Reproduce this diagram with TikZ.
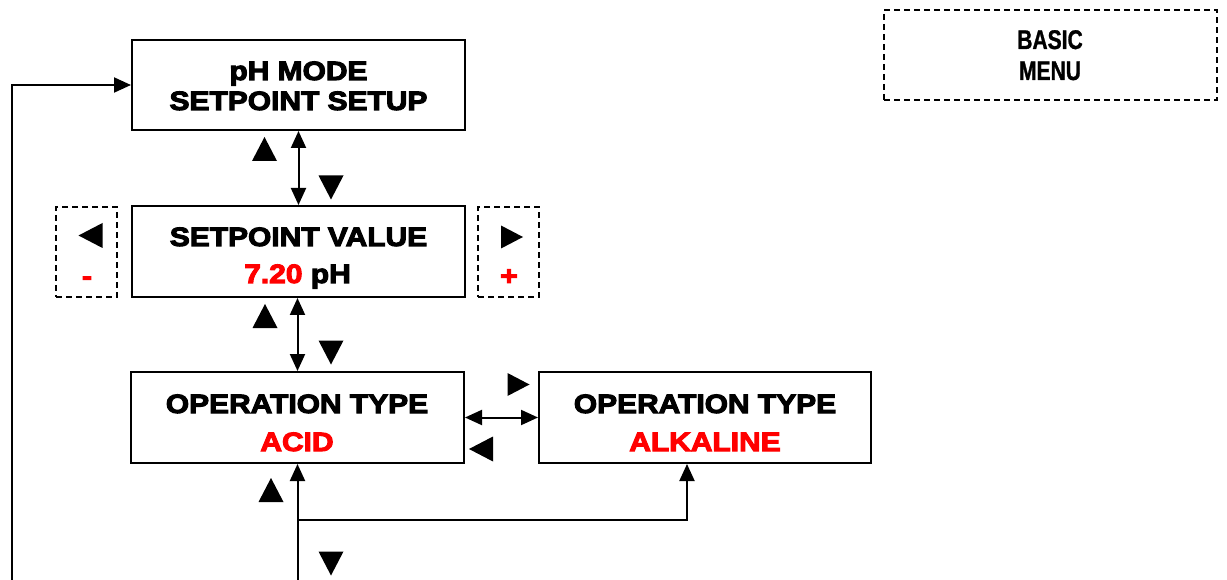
\documentclass[tikz,border=0pt]{standalone}
\usepackage{fontspec}
\newfontfamily\blk{Liberation Sans}[FakeStretch=1.13,BoldFeatures={FakeBold=4}]
\newfontfamily\nar{Liberation Sans}[FakeStretch=0.78,BoldFeatures={FakeBold=1}]
\usetikzlibrary{arrows.meta}
\definecolor{redtxt}{RGB}{255,0,0}
\tikzset{
  tup/.pic={\fill (-12.5,12) -- (12.5,12) -- (0,-12) -- cycle;},
  tdown/.pic={\fill (-12.5,-12) -- (12.5,-12) -- (0,12) -- cycle;},
  tleft/.pic={\fill (12,-12.5) -- (12,12.5) -- (-12,0) -- cycle;},
  tright/.pic={\fill (-11,-11.5) -- (-11,11.5) -- (11,0) -- cycle;},
}
\begin{document}
\begin{tikzpicture}[x=1pt,y=-1pt,
  box/.style={draw,line width=2pt,inner sep=0pt},
  dbox/.style={draw,line width=1.4pt,dash pattern=on 6pt off 4pt,inner sep=0pt},
  txt/.style={inner sep=0pt,anchor=base,font=\blk\bfseries\fontsize{26.5}{30}\selectfont},
  ntxt/.style={inner sep=0pt,anchor=base,font=\nar\bfseries\fontsize{27}{30}\selectfont},
  rtxt/.style={text=redtxt},
  conn/.style={line width=2pt},
  arr/.style={-{Triangle[length=17pt,width=15pt]}},
  darr/.style={{Triangle[length=17pt,width=15pt]}-{Triangle[length=17pt,width=15pt]}},
]
\useasboundingbox (0,0) rectangle (1227,580);

% boxes
\node[box,minimum width=333pt,minimum height=90pt] (b1) at (298.5,85) {};
\node[box,minimum width=333pt,minimum height=91pt] (b2) at (298.5,251.5) {};
\node[box,minimum width=333pt,minimum height=91pt] (b3) at (297.5,417.5) {};
\node[box,minimum width=332pt,minimum height=91pt] (b4) at (705,417.5) {};
\node[dbox,minimum width=61pt,minimum height=90pt] (dL) at (86.5,252) {};
\node[dbox,minimum width=61pt,minimum height=90pt] (dR) at (508.5,252) {};
\node[dbox,minimum width=333pt,minimum height=90pt] (bm) at (1050.5,55) {};

% texts
\node[txt] (t1a) at (298.5,80) {pH MODE};
\node[txt] (t1b) at (298.5,110) {SETPOINT SETUP};
\node[txt] (t2a) at (298.5,246) {SETPOINT VALUE};
\node[txt] (t2b) at (297.5,283) {\textcolor{redtxt}{7.20} pH};
\node[txt] (t3a) at (297,413) {OPERATION TYPE};
\node[txt,rtxt] (t3b) at (297,451) {ACID};
\node[txt] (t4a) at (705,413) {OPERATION TYPE};
\node[txt,rtxt] (t4b) at (705,451) {ALKALINE};
\node[ntxt] (tma) at (1050,49) {BASIC};
\node[ntxt] (tmb) at (1050,80) {MENU};
\node[txt,rtxt] (tminus) at (87,285) {-};
\node[txt,rtxt] (tplus) at (509,285) {+};

% key triangles
\pic at (264.5,149) {tup};
\pic at (331,187.5) {tdown};
\pic at (265,316) {tup};
\pic at (331,352.5) {tdown};
\pic at (90.5,235.5) {tleft};
\pic at (512,237) {tright};
\pic at (518.5,384.5) {tright};
\pic at (481,449) {tleft};
\pic at (271,490) {tup};
\pic at (331,563.5) {tdown};

% connectors
\coordinate (lb) at (12,580);
\coordinate (bot) at (297.5,580);
\coordinate (br) at (297.5,520);
\coordinate (bk) at (687,520);
\draw[conn,arr] (lb) |- (b1.west);
\draw[conn,darr] (b1.south) -- (b2.north);
\draw[conn,darr] (b2.south -| b3.south) -- (b3.north);
\draw[conn,darr] (b3.east) -- (b4.west);
\draw[conn,arr] (bot) -- (b3.south);
\draw[conn,arr] (br) -- (bk) -- (bk |- b4.south);
\end{tikzpicture}
\end{document}
